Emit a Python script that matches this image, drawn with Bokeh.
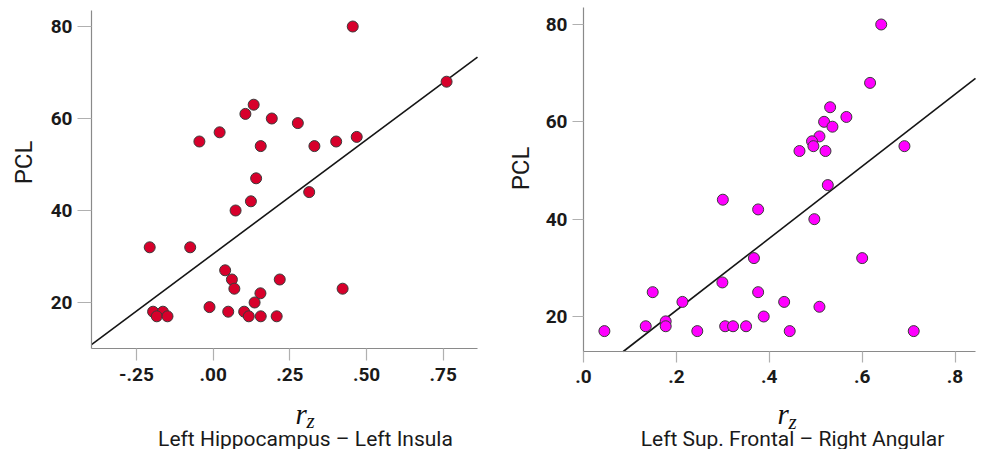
import numpy as np
from bokeh.plotting import figure
from bokeh.layouts import row
from bokeh.models import Range1d, FixedTicker, Label, LinearAxis
from bokeh.embed import file_html
from bokeh.resources import INLINE

# ---------------- data ----------------
left_rz = [0.455, 0.761, 0.132, 0.105, 0.191, 0.276, 0.021, -0.045, 0.155, 0.330,
           0.401, 0.468, 0.140, 0.313, 0.123, 0.073, -0.207, -0.075, 0.039, 0.061,
           0.217, 0.069, 0.422, 0.154, 0.135, -0.012, -0.196, -0.164, 0.049, 0.101,
           -0.184, -0.149, 0.116, 0.155, 0.207]
left_pcl = [80, 68, 63, 61, 60, 59, 57, 55, 54, 54,
            55, 56, 47, 44, 42, 40, 32, 32, 27, 25,
            25, 23, 23, 22, 20, 19, 18, 18, 18, 18,
            17, 17, 17, 17, 17]

right_rz = [0.641, 0.617, 0.531, 0.566, 0.518, 0.536, 0.508, 0.492, 0.495, 0.465,
            0.521, 0.691, 0.526, 0.300, 0.376, 0.497, 0.367, 0.600, 0.299, 0.149,
            0.376, 0.213, 0.432, 0.508, 0.388, 0.177, 0.134, 0.177, 0.305, 0.322,
            0.350, 0.045, 0.245, 0.444, 0.711]
right_pcl = [80, 68, 63, 61, 60, 59, 57, 56, 55, 54,
             54, 55, 47, 44, 42, 40, 32, 32, 27, 25,
             25, 23, 23, 22, 20, 19, 18, 18, 18, 18,
             18, 17, 17, 17, 17]

left_xticks = [-0.25, 0.0, 0.25, 0.5, 0.75]
left_xlabels = ["-.25", ".00", ".25", ".50", ".75"]
right_xticks = [0.0, 0.2, 0.4, 0.6, 0.8]
right_xlabels = [".0", ".2", ".4", ".6", ".8"]
yticks = [20, 40, 60, 80]
ylabels = ["20", "40", "60", "80"]

left_title = "Left Hippocampus \u2013 Left Insula"
right_title = "Left Sup. Frontal \u2013 Right Angular"
y_title = "PCL"
x_main = "r"
x_sub = "z"

FONT = "Roboto"
H = 449


def panel(xs, ys, color, dbox, sbox, left_px, width, xticks, xlabels, title, pos,
          ytick_len, xtick_len):
    # dbox: data limits of the axis box (x0, x1, y0, y1)
    # sbox: page-pixel limits of the axis box (x0, x1, ytop, ybottom)
    dx0, dx1, dy0, dy1 = dbox
    sx0, sx1, sy0, sy1 = sbox
    kx = (dx1 - dx0) / (sx1 - sx0)
    ky = (dy1 - dy0) / (sy1 - sy0)

    def X(px):
        return dx0 + (px - sx0) * kx

    def Y(py):
        return dy0 + (sy1 - py) * ky

    p = figure(width=width, height=H, output_backend="svg", toolbar_location=None,
               x_range=Range1d(X(left_px), X(left_px + width)),
               y_range=Range1d(Y(H), Y(0)),
               x_axis_location=None, y_axis_location=None, min_border=0)
    p.outline_line_color = None
    p.grid.visible = False
    p.background_fill_color = "white"
    p.border_fill_color = "white"

    # regression line (least squares), kept inside the axis box
    slope, icpt = np.polyfit(np.array(xs), np.array(ys), 1)
    x_a = max(dx0, (dy0 - icpt) / slope)
    x_b = min(dx1, (dy1 - icpt) / slope)
    lx = np.array([x_a, x_b])
    p.line(lx, icpt + slope * lx, line_color="#151515", line_width=1.6)

    p.scatter(xs, ys, marker="circle", size=11, fill_color=color,
              line_color="#3a3a3a", line_width=1)

    xax = LinearAxis(fixed_location=dy0, bounds=(dx0, dx1))
    yax = LinearAxis(fixed_location=dx0, bounds=(dy0, dy1))
    p.add_layout(xax, "below")
    p.add_layout(yax, "left")
    for ax, ticks, labels, tl in ((xax, xticks, xlabels, xtick_len),
                                  (yax, yticks, ylabels, ytick_len)):
        ax.ticker = FixedTicker(ticks=ticks)
        ax.major_label_overrides = {t: l for t, l in zip(ticks, labels)}
        ax.axis_line_color = "#8a8a8a"
        ax.axis_line_width = 1.2
        ax.major_tick_line_color = "#b0b0b0"
        ax.major_tick_line_width = 1.2
        ax.major_tick_out = tl
        ax.major_tick_in = 0
        ax.minor_tick_line_color = None
        ax.major_label_text_font = FONT
        ax.major_label_text_font_size = "19px"
        ax.major_label_text_font_style = "bold"
        ax.major_label_text_color = "#1a1a1a"
    xax.major_label_standoff = 7
    yax.major_label_standoff = 5

    # y title
    p.add_layout(Label(x=X(pos["pcl"][0]), y=Y(pos["pcl"][1]), text=y_title, angle=np.pi / 2,
                       text_align="center", text_baseline="middle", text_font=FONT,
                       text_font_size="24px", text_color="#1a1a1a"))
    # r_z
    p.add_layout(Label(x=X(pos["r"][0]), y=Y(pos["r"][1]), text=x_main,
                       text_align="left", text_baseline="alphabetic",
                       text_font="Liberation Serif", text_font_style="italic",
                       text_font_size="29px", text_color="#111111"))
    p.add_layout(Label(x=X(pos["z"][0]), y=Y(pos["z"][1]), text=x_sub,
                       text_align="left", text_baseline="alphabetic",
                       text_font="Liberation Serif", text_font_style="italic",
                       text_font_size="21px", text_color="#111111"))
    # subtitle
    p.add_layout(Label(x=X(pos["t"][0]), y=Y(pos["t"][1]), text=title,
                       text_align="center", text_baseline="alphabetic", text_font=FONT,
                       text_font_size="21px", text_color="#1a1a1a"))
    return p


p1 = panel(left_rz, left_pcl, "#d7002b",
           (-0.3968, 0.8618, 10.0, 83.48), (91, 477, 10, 348), 0, 500,
           left_xticks, left_xlabels, left_title,
           {"pcl": (23, 162), "r": (295, 413), "z": (306, 420), "t": (305, 438)}, 14, 12)
p2 = panel(right_rz, right_pcl, "#ff00ff",
           (0.0, 0.844, 12.81, 83.49), (583, 975, 7, 351), 500, 481,
           right_xticks, right_xlabels, right_title,
           {"pcl": (520, 168), "r": (777, 413), "z": (788, 421), "t": (792, 438)}, 11, 11)

layout = row(p1, p2)
open("out.html", "w").write(file_html(layout, INLINE))
